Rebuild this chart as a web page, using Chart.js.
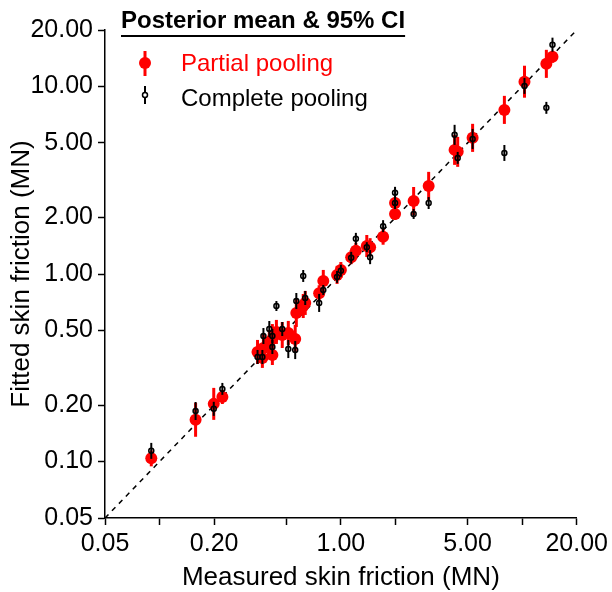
<!DOCTYPE html>
<html>
<head>
<meta charset="utf-8">
<script src="https://cdn.jsdelivr.net/npm/chart.js@4/dist/chart.umd.min.js"></script>
<style>
  html, body { margin: 0; padding: 0; background: #fff; }
  #wrap { width: 612px; height: 592px; position: relative; }
</style>
</head>
<body>
<div id="wrap"><canvas id="chart"></canvas></div>
<script>
// Measured vs fitted skin friction (MN), one entry per pile
const measured = [0.09, 0.158, 0.199, 0.222, 0.347, 0.369, 0.374, 0.403, 0.419, 0.419,
    0.441, 0.475, 0.513, 0.56, 0.568, 0.62, 0.636, 0.759, 0.80, 0.953,
    1.00, 1.14, 1.21, 1.39, 1.45, 1.71, 1.99, 1.99, 2.52, 3.05,
    4.24, 4.41, 5.33, 7.98, 10.3, 13.6, 14.7];

// Partial pooling: posterior mean and 95% CI (as multiplicative half-width)
const partialMean = [0.104, 0.167, 0.203, 0.221, 0.384, 0.357, 0.403, 0.434, 0.37, 0.45,
    0.491, 0.473, 0.485, 0.45, 0.62, 0.675, 0.701, 0.79, 0.918, 0.989,
    1.05, 1.23, 1.33, 1.41, 1.39, 1.58, 2.39, 2.09, 2.45, 2.95,
    4.59, 4.48, 5.32, 7.5, 10.6, 13.2, 14.4];
const partialCI = [1.103, 1.232, 1.217, 1.090, 1.159, 1.131, 1.188, 1.159, 1.131, 1.202,
    1.159, 1.173, 1.159, 1.188, 1.188, 1.159, 1.159, 1.103, 1.145, 1.117,
    1.103, 1.090, 1.103, 1.145, 1.117, 1.103, 1.076, 1.076, 1.188, 1.188,
    1.202, 1.202, 1.188, 1.188, 1.217, 1.188, 1.076];

// Complete pooling: posterior mean and 95% CI
const completeMean = [0.114, 0.186, 0.191, 0.244, 0.361, 0.361, 0.467, 0.509, 0.408, 0.467,
    0.675, 0.509, 0.398, 0.393, 0.718, 0.976, 0.745, 0.701, 0.822, 0.965,
    1.04, 1.22, 1.54, 1.39, 1.23, 1.80, 2.71, 2.39, 2.09, 2.39,
    5.52, 4.16, 5.25, 4.42, 10.07, 7.69, 16.7];
const completeCI = [1.103, 1.117, 1.090, 1.076, 1.090, 1.090, 1.103, 1.103, 1.090, 1.090,
    1.063, 1.090, 1.117, 1.117, 1.103, 1.076, 1.090, 1.117, 1.063, 1.076,
    1.076, 1.076, 1.076, 1.063, 1.090, 1.076, 1.076, 1.076, 1.063, 1.076,
    1.131, 1.076, 1.131, 1.103, 1.103, 1.076, 1.090];

const refLine = [0.05, 20];
const axisTicks = [0.05, 0.1, 0.2, 0.5, 1, 2, 5, 10, 20];
const xLabelled = [0.05, 0.2, 1, 5, 20];

const FONT = "'Liberation Sans', Arial, Helvetica, sans-serif";
const RED = '#ff0000';

const toPoints = (ys, fs) => measured.map((x, i) => ({ x: x, y: ys[i], lo: ys[i] / fs[i], hi: ys[i] * fs[i] }));

// draws the CI segments right before each dataset's points
const errorBars = {
    id: 'errorBars',
    beforeDatasetDraw(chart, args) {
        const ds = chart.data.datasets[args.index];
        if (!ds.errWidth) return;
        const ys = chart.scales.y;
        const ctx = chart.ctx;
        ctx.save();
        ctx.strokeStyle = ds.errColor;
        ctx.lineWidth = ds.errWidth;
        args.meta.data.forEach((pt, i) => {
            const d = ds.data[i];
            ctx.beginPath();
            ctx.moveTo(pt.x, ys.getPixelForValue(d.lo));
            ctx.lineTo(pt.x, ys.getPixelForValue(d.hi));
            ctx.stroke();
        });
        ctx.restore();
    }
};

const legendBox = {
    id: 'legendBox',
    afterDraw(chart) {
        const ctx = chart.ctx;
        ctx.save();
        ctx.textBaseline = 'middle';
        ctx.textAlign = 'left';
        ctx.font = 'bold 24px ' + FONT;
        ctx.fillStyle = '#000';
        const title = 'Posterior mean & 95% CI';
        ctx.fillText(title, 121, 21);
        const w = ctx.measureText(title).width;
        ctx.strokeStyle = '#000';
        ctx.lineWidth = 2;
        ctx.beginPath();
        ctx.moveTo(121, 36);
        ctx.lineTo(121 + w, 36);
        ctx.stroke();

        // partial pooling key
        ctx.strokeStyle = RED;
        ctx.lineWidth = 3;
        ctx.beginPath();
        ctx.moveTo(145, 51);
        ctx.lineTo(145, 76);
        ctx.stroke();
        ctx.fillStyle = RED;
        ctx.beginPath();
        ctx.arc(145, 63, 6, 0, Math.PI * 2);
        ctx.fill();
        ctx.font = '24px ' + FONT;
        ctx.fillText('Partial pooling', 181, 64);

        // complete pooling key
        ctx.strokeStyle = '#000';
        ctx.lineWidth = 2;
        ctx.beginPath();
        ctx.moveTo(145, 86);
        ctx.lineTo(145, 104);
        ctx.stroke();
        ctx.fillStyle = '#fff';
        ctx.lineWidth = 1.5;
        ctx.beginPath();
        ctx.arc(145, 95, 2.5, 0, Math.PI * 2);
        ctx.fill();
        ctx.stroke();
        ctx.fillStyle = '#000';
        ctx.fillText('Complete pooling', 181, 99);
        ctx.restore();
    }
};

const axisCommon = {
    type: 'logarithmic',
    min: 0.05,
    max: 20,
    grid: { display: true, drawOnChartArea: false, drawTicks: true, tickLength: 7, tickWidth: 1.5, tickColor: '#000' },
    border: { display: true, color: '#000', width: 1.5 }
};

new Chart(document.getElementById('chart').getContext('2d'), {
    type: 'scatter',
    data: {
        datasets: [
            {
                label: 'Complete pooling',
                data: toPoints(completeMean, completeCI),
                order: 0,
                pointStyle: 'circle',
                pointRadius: 2.5,
                pointBorderWidth: 1.5,
                pointBorderColor: '#000',
                pointBackgroundColor: 'rgba(0,0,0,0)',
                errColor: '#000',
                errWidth: 2
            },
            {
                label: 'Partial pooling',
                data: toPoints(partialMean, partialCI),
                order: 1,
                pointStyle: 'circle',
                pointRadius: 6,
                pointBorderWidth: 0,
                pointBackgroundColor: RED,
                errColor: RED,
                errWidth: 3
            },
            {
                label: '1:1',
                data: refLine.map(v => ({ x: v, y: v })),
                order: 2,
                showLine: true,
                borderColor: '#000',
                borderWidth: 1.5,
                borderDash: [5, 5],
                pointRadius: 0
            }
        ]
    },
    options: {
        responsive: true,
        maintainAspectRatio: false,
        animation: false,
        layout: { padding: { left: 0, right: 32, top: 30, bottom: 0 } },
        plugins: {
            legend: { display: false },
            tooltip: { enabled: false }
        },
        scales: {
            x: {
                ...axisCommon,
                afterFit: (s) => { s.height = 74; },
                afterBuildTicks: (s) => { s.ticks = axisTicks.map(v => ({ value: v })); },
                ticks: {
                    autoSkip: false,
                    maxRotation: 0,
                    padding: 4,
                    color: '#000',
                    font: { family: FONT, size: 25 },
                    callback: (v) => xLabelled.includes(v) ? v.toFixed(2) : ''
                },
                title: {
                    display: true,
                    text: 'Measured skin friction (MN)',
                    color: '#000',
                    font: { family: FONT, size: 26, lineHeight: 1 },
                    padding: { top: 0, bottom: 1 }
                }
            },
            y: {
                ...axisCommon,
                afterFit: (s) => { s.width = 105; },
                afterBuildTicks: (s) => { s.ticks = axisTicks.map(v => ({ value: v })); },
                ticks: {
                    autoSkip: false,
                    padding: 5,
                    color: '#000',
                    font: { family: FONT, size: 25 },
                    callback: (v) => v.toFixed(2)
                },
                title: {
                    display: true,
                    text: 'Fitted skin friction (MN)',
                    color: '#000',
                    font: { family: FONT, size: 26, lineHeight: 1 },
                    padding: { top: 9, bottom: 0 }
                }
            }
        }
    },
    plugins: [errorBars, legendBox]
});
</script>
</body>
</html>
